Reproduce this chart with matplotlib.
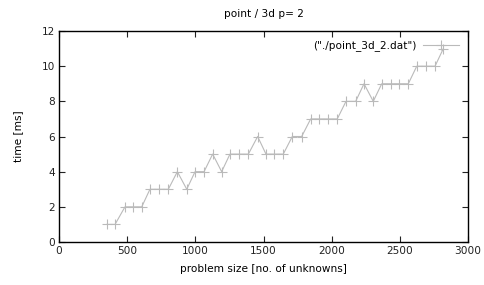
import matplotlib
matplotlib.use('Agg')
import matplotlib.pyplot as plt

# problem size vs time
SIZES = [350, 411, 484, 545, 607, 667, 736, 802, 868, 937,
         998, 1064, 1127, 1193, 1254, 1322, 1389, 1457, 1518, 1577,
         1645, 1711, 1780, 1846, 1909, 1975, 2041, 2105, 2176, 2237,
         2305, 2367, 2433, 2496, 2562, 2624, 2692, 2758, 2819]
TIMES = [1, 1, 2, 2, 2, 3, 3, 3, 4, 3,
         4, 4, 5, 4, 5, 5, 5, 6, 5, 5,
         5, 6, 6, 7, 7, 7, 7, 8, 8, 9,
         8, 9, 9, 9, 9, 10, 10, 10, 11]
X_TICKS = [0, 500, 1000, 1500, 2000, 2500, 3000]
Y_TICKS = [0, 2, 4, 6, 8, 10, 12]

FS = 7.6
plt.rcParams['font.family'] = ['DejaVu Sans']
plt.rcParams['font.size'] = FS

fig = plt.figure(figsize=(4.84, 2.85), dpi=100)
ax = fig.add_axes([0.1219, 0.1509, 0.967 - 0.1219, 0.8912 - 0.1509])

ax.plot(SIZES, TIMES, color='#bababa', linewidth=0.8, marker='+',
        markersize=7, markeredgewidth=0.8, label='("./point_3d_2.dat")')

ax.set_xlim(0, 3000)
ax.set_ylim(0, 12)
ax.set_xticks(X_TICKS)
ax.set_yticks(Y_TICKS)
ax.tick_params(direction='in', length=4, width=0.8, top=True, right=True,
               labelsize=FS, colors='#222222', pad=3)
for side in ax.spines.values():
    side.set_linewidth(1.0)

ax.set_title('point / 3d p= 2', fontsize=FS, pad=10)
ax.set_xlabel('problem size [no. of unknowns]', fontsize=FS, labelpad=6)
ax.set_ylabel('time [ms]', fontsize=FS, labelpad=13)

ax.legend(loc='upper right', frameon=False, markerfirst=False,
          handlelength=3.4, handletextpad=0.6, fontsize=FS,
          borderaxespad=0.5)

fig.savefig('out.png', dpi=100)
